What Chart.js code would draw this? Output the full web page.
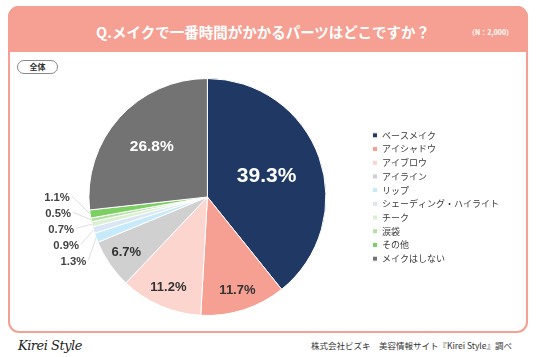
<!DOCTYPE html>
<html><head><meta charset="utf-8">
<script src="https://cdn.jsdelivr.net/npm/chart.js@4/dist/chart.umd.min.js"></script>
<style>
html,body{margin:0;padding:0;background:#fff;}
body{width:536px;height:357px;position:relative;overflow:hidden;font-family:"Noto Sans CJK JP","Noto Sans",sans-serif;}
#frame{position:absolute;left:8px;top:6px;width:520px;height:327px;border:2px solid #f5a092;border-radius:11px;box-sizing:border-box;}
#head{position:absolute;left:8px;top:6px;width:520px;height:46px;background:#f5a092;border-radius:11px 11px 0 0;}
#title{position:absolute;left:10px;top:21px;width:506px;text-align:center;color:#fff;font-weight:bold;font-size:14.5px;line-height:22px;}
#n{position:absolute;left:468px;top:27px;color:#fff;font-weight:bold;font-size:7px;line-height:10px;}
#pill{position:absolute;left:17px;top:60px;width:41px;height:14px;border:1px solid #888;border-radius:8px;box-sizing:border-box;text-align:center;font-size:8px;font-weight:bold;line-height:12px;color:#333;}
#logo{position:absolute;left:18px;top:338px;font-family:"DejaVu Serif","Liberation Serif",serif;font-style:italic;font-size:13px;color:#222;letter-spacing:-0.5px;}
#src{position:absolute;right:24px;top:339px;font-size:8.5px;color:#333;line-height:12px;}
#c{position:absolute;left:10px;top:52px;}
</style></head>
<body>
<div id="frame"></div>
<div id="head"></div>
<div id="title">Q.メイクで一番時間がかかるパーツはどこですか？</div>
<div id="n">（N：2,000）</div>
<div id="pill">全体</div>
<canvas id="c" width="516" height="280"></canvas>
<div id="logo">Kirei Style</div>
<div id="src">株式会社ビズキ　美容情報サイト『Kirei Style』調べ</div>
<script>
const categories = ["ベースメイク","アイシャドウ","アイブロウ","アイライン","リップ","シェーディング・ハイライト","チーク","涙袋","その他","メイクはしない"];
const values = [39.3, 11.7, 11.2, 6.7, 1.3, 0.9, 0.7, 0.5, 1.1, 26.8];
const colors = ["#1f3864","#f5a092","#fcd5cf","#d0d0d0","#c6eafa","#d9e6f5","#d9f1d1","#b2e0a0","#7ccf62","#737373"];

const labelPlugin = {
  id: 'pieLabels',
  afterDatasetsDraw(chart) {
    const ctx = chart.ctx;
    const meta = chart.getDatasetMeta(0);
    const ds = chart.data.datasets[0].data;
    const small = [];
    ctx.save();
    ctx.textAlign = 'center';
    ctx.textBaseline = 'middle';
    meta.data.forEach((arc, i) => {
      const p = arc.getProps(['x','y','startAngle','endAngle','outerRadius'], true);
      const mid = (p.startAngle + p.endAngle) / 2;
      const v = ds[i];
      const txt = v.toFixed(1) + '%';
      let rf, size, color;
      if (v > 30) { rf = 0.53; size = 21; color = '#fff'; }
      else if (v > 20) { rf = 0.63; size = 15.5; color = '#fff'; }
      else if (v >= 5) { rf = 0.83; size = 13; color = '#333'; }
      else { small.push({i, mid, p, txt}); return; }
      ctx.font = 'bold ' + size + 'px "Liberation Sans", Arial, sans-serif';
      ctx.fillStyle = color;
      ctx.fillText(txt, p.x + Math.cos(mid) * p.outerRadius * rf, p.y + Math.sin(mid) * p.outerRadius * rf);
    });
    if (small.length) {
      const p0 = small[0].p;
      const anchors = small.map(s => ({x: p0.x + Math.cos(s.mid) * p0.outerRadius, y: p0.y + Math.sin(s.mid) * p0.outerRadius}));
      const meanY = anchors.reduce((a, b) => a + b.y, 0) / anchors.length + 5;
      const n = small.length, gap = 16, R = p0.outerRadius + 19;
      ctx.font = 'bold 11.3px "Liberation Sans", Arial, sans-serif';
      ctx.textAlign = 'right';
      small.forEach((s, k) => {
        const y = meanY + ((n - 1) / 2 - k) * gap;
        const dy = y - p0.y;
        const xr = p0.x - Math.sqrt(Math.max(R * R - dy * dy, 0));
        ctx.strokeStyle = '#d6d6d6';
        ctx.lineWidth = 0.8;
        ctx.beginPath();
        ctx.moveTo(xr + 2, y - 2);
        ctx.lineTo(anchors[k].x, anchors[k].y);
        ctx.stroke();
        ctx.fillStyle = '#444';
        ctx.fillText(s.txt, xr, y);
      });
    }
    ctx.restore();
  }
};

new Chart(document.getElementById('c'), {
  type: 'pie',
  data: {
    labels: categories,
    datasets: [{ data: values, backgroundColor: colors, borderColor: '#ffffff', borderWidth: 1 }]
  },
  options: {
    responsive: false,
    devicePixelRatio: 1,
    animation: false,
    layout: { padding: { top: 26, bottom: 16, left: 37, right: 17 } },
    plugins: {
      legend: {
        position: 'right',
        labels: {
          boxWidth: 5, boxHeight: 5, padding: 4.7, color: '#3a3a3a',
          font: { size: 9, family: '"Noto Sans CJK JP", sans-serif' }
        }
      },
      tooltip: { enabled: false }
    }
  },
  plugins: [labelPlugin]
});
</script>
</body></html>
